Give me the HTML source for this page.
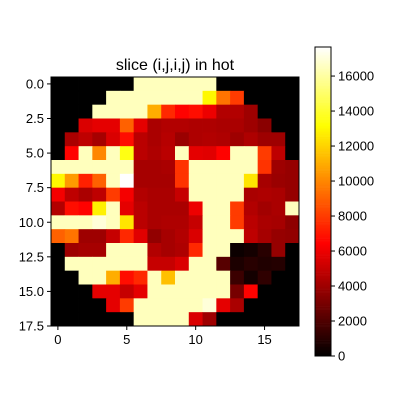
<!DOCTYPE html>
<html><head><meta charset="utf-8"><style>body{margin:0;background:#fff}svg{display:block;font-family:"Liberation Sans",sans-serif}</style></head>
<body>
<svg id="c" width="400" height="400"></svg>
<script>
const rowsData = [
[0,0,0,0,0,0,16500,16500,16500,16500,16500,16500,0,0,0,0,0,0],
[0,0,0,0,16500,16500,16500,16500,16500,16500,16500,13000,9500,8000,0,0,0,0],
[0,0,0,16500,16500,16500,16500,11000,7500,6500,6800,6000,4500,4500,4000,0,0,0],
[0,0,5500,5800,5800,9000,5800,4300,4500,4500,4400,4400,4300,4300,4000,3500,0,0],
[0,4300,4800,4200,5500,6800,4700,4300,4600,3900,4400,4500,4400,4000,4400,4000,4000,0],
[0,6500,16500,10000,16500,13500,4700,4400,4700,16500,5800,5700,6500,16500,16500,8000,4800,0],
[16500,16500,16500,16500,16500,16500,4200,4200,4300,7800,16500,16500,16500,16500,16500,7800,4000,3800],
[13000,10500,7300,9000,16500,17700,4200,4200,4200,7800,16500,16500,16500,16500,12500,4200,3900,3800],
[6200,4800,4300,4800,8000,6200,4500,4300,4300,5000,16500,16500,16500,16500,4300,4400,4300,3800],
[4500,6800,6500,12800,16500,5800,4700,4300,4300,4300,6000,16500,16500,8000,4500,4100,4300,16500],
[16500,16500,16500,17000,16500,12500,4700,4300,4400,4400,5000,16500,16500,8000,4700,4300,4200,3600],
[9000,9500,4000,4000,5000,7500,5700,3700,4200,4500,5500,16500,16500,16500,4800,4200,3800,3700],
[0,4000,4200,4200,16500,16500,16500,4500,4200,4400,7500,16500,16500,300,500,1000,3800,0],
[0,16500,16500,16500,16500,16500,16500,5000,5000,5500,16500,16500,2200,700,1000,800,900,0],
[0,0,16500,16500,11000,6800,7500,16500,11500,16500,16500,16500,16500,1500,500,1200,0,0],
[0,0,0,5800,5800,5000,5800,16500,16500,16500,16500,16500,16500,3000,6500,0,0,0],
[0,0,0,0,5800,8000,16500,16500,16500,16500,16500,17000,5800,4300,0,0,0,0],
[0,0,0,0,0,0,16500,16500,16500,16500,5500,4000,0,0,0,0,0,0]
];
const xTickVals = [0,5,10,15];
const yTickVals = [0,2.5,5,7.5,10,12.5,15,17.5];
const yTickLabels = ["0.0","2.5","5.0","7.5","10.0","12.5","15.0","17.5"];
const cbTickVals = [0,2000,4000,6000,8000,10000,12000,14000,16000];
const VMAX = 17660;
const NS="http://www.w3.org/2000/svg";
const svg=document.getElementById('c');
const L=51,R=299,T=77,B=326,n=18;
const cw=(R-L)/n,ch=(B-T)/n;
const xs=v=>L+(v+0.5)*cw, ys=v=>T+(v+0.5)*ch;
function hot(v){const x=Math.max(0,Math.min(1,v/VMAX));const c=t=>Math.round(255*Math.max(0,Math.min(1,t)));
return `rgb(${c(x/0.365)},${c((x-0.365)/0.381)},${c((x-0.746)/0.254)})`;}
function mk(tag,a,p){const e=document.createElementNS(NS,tag);for(const k in a)e.setAttribute(k,a[k]);(p||svg).appendChild(e);return e;}
const t=mk('text',{x:175,y:70,'text-anchor':'middle','font-size':16,fill:'#000'});t.textContent='slice (i,j,i,j) in hot';


rowsData.forEach((row,i)=>row.forEach((v,j)=>{
const r=mk('rect',{x:(xs(j)-cw/2).toFixed(2),y:(ys(i)-ch/2).toFixed(2),width:(cw+0.4).toFixed(2),height:(ch+0.4).toFixed(2),fill:hot(v)});


}));
const fr=mk('rect',{x:L,y:T,width:R-L,height:B-T,fill:'none',stroke:'#000','stroke-width':1});


xTickVals.forEach(v=>{const x=xs(v);mk('line',{x1:x,x2:x,y1:B,y2:B+4,stroke:'#000'});
const tx=mk('text',{x:x,y:B+18,'text-anchor':'middle','font-size':13});tx.textContent=v;

});
yTickVals.forEach((v,i)=>{const y=ys(v);mk('line',{x1:L-4,x2:L,y1:y,y2:y,stroke:'#000'});
const tx=mk('text',{x:L-7,y:y+4.5,'text-anchor':'end','font-size':13});tx.textContent=yTickLabels[i];

});
const CL=315,CR=331,CT=47,CB=356;
const cy=v=>CB-(v/VMAX)*(CB-CT);
for(let k=0;k<200;k++){const v0=k/200*VMAX,v1=(k+1)/200*VMAX;
const r=mk('rect',{x:CL,y:cy(v1).toFixed(2),width:CR-CL,height:(cy(v0)-cy(v1)+0.3).toFixed(2),fill:hot((v0+v1)/2)});

}
const cf=mk('rect',{x:CL,y:CT,width:CR-CL,height:CB-CT,fill:'none',stroke:'#000'});


cbTickVals.forEach(v=>{const y=cy(v);mk('line',{x1:CR,x2:CR+4,y1:y,y2:y,stroke:'#000'});
const tx=mk('text',{x:CR+7,y:y+4.5,'font-size':13});tx.textContent=v;

});
</script>
</body></html>
